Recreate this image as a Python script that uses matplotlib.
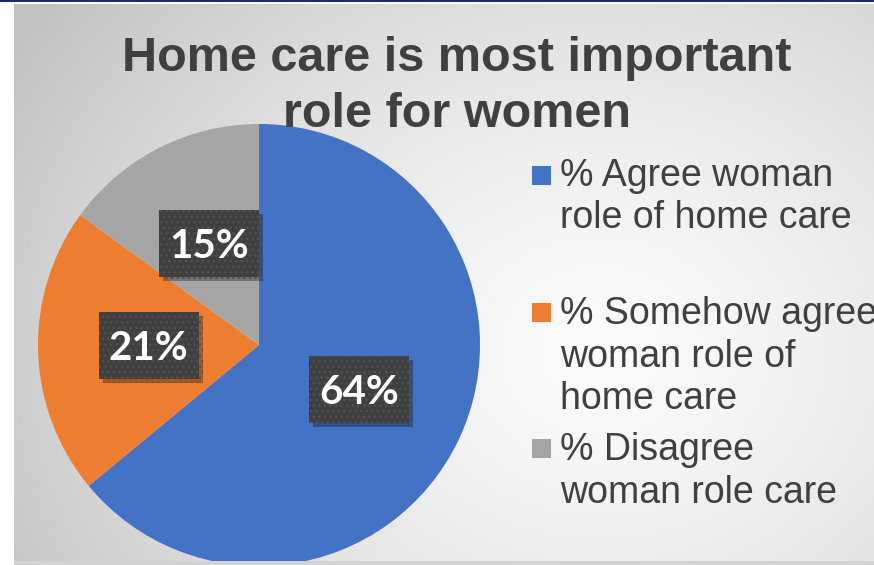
import matplotlib.pyplot as plt
import numpy as np
from matplotlib.patches import Rectangle
from matplotlib.patheffects import withSimplePatchShadow

# Survey shares (percent)
categories = [
    '% Agree woman\nrole of home care',
    '% Somehow agree\nwoman role of\nhome care',
    '% Disagree\nwoman role care',
]
values = [64, 21, 15]
colors = ['#4472C4', '#ED7D31', '#A5A5A5']
title_lines = ['Home care is most important', 'role for women']

W, H = 874, 565
R = 221  # pie radius in pixels
TEXT = '#404040'


def px(x, y):
    """pixel position (from top-left) -> figure fraction"""
    return x / W, 1 - y / H


fig = plt.figure(figsize=(W / 100, H / 100), dpi=100, facecolor='white')

# grey radial background of the chart area
bg = fig.add_axes([14 / W, 0, 1 - 14 / W, 1 - 4 / H], zorder=-5)
yy, xx = np.mgrid[4:H, 14:W]
d = np.sqrt(((xx - 600) / 560.0) ** 2 + ((yy - 350) / 470.0) ** 2)
shade = 251 - 58 * np.clip(d / 1.25, 0, 1) ** 1.4
bg.imshow(np.dstack([shade] * 3) / 255.0, aspect='auto', interpolation='bilinear')
bg.axis('off')

# thin navy rule along the top, light strip along the bottom
fig.add_artist(Rectangle((0, 1 - 2 / H), 1, 2 / H, transform=fig.transFigure,
                         facecolor='#1F2A6E', edgecolor='none'))
fig.add_artist(Rectangle((14 / W, 0), 1, 4 / H, transform=fig.transFigure,
                         facecolor='#d2d2d2', edgecolor='none'))

# pie
ax = fig.add_axes([38 / W, -1 / H, 2 * R / W, 2 * R / H])
wedges, texts, autotexts = ax.pie(
    values, colors=colors, startangle=90, counterclock=False,
    autopct='%1.0f%%', pctdistance=0.5,
    textprops=dict(color='white', fontsize=29, fontweight='bold', family='Lato'))
ax.set_xlim(-1, 1)
ax.set_ylim(-1, 1)
ax.set_aspect('equal')
ax.axis('off')

# dark dotted label boxes with a soft drop shadow
bw, bh = 100 / R, 67 / R
for t in autotexts:
    x, y = t.get_position()
    box = Rectangle((x - bw / 2, y - bh / 2 + 3 / R), bw, bh, facecolor='#404040',
                    edgecolor='#525252', linewidth=0, hatch='...', zorder=3)
    box.set_path_effects(
        [withSimplePatchShadow(offset=(3, -3), shadow_rgbFace='black', alpha=0.3)])
    ax.add_patch(box)
    t.set_zorder(4)

# title
for line, base in zip(title_lines, [71, 127]):
    fig.text(*px(457, base), line, ha='center', va='baseline', fontsize=35,
             fontweight='bold', color=TEXT, family='Liberation Sans')

# legend, laid out by hand
swatch_tops = [166, 303, 439]
baselines = [[186, 228], [324, 367, 409], [460, 503]]
for label, color, top, bases in zip(categories, colors, swatch_tops, baselines):
    x0, y0 = px(532, top + 19)
    fig.add_artist(Rectangle((x0, y0), 19 / W, 19 / H, transform=fig.transFigure,
                             facecolor=color, edgecolor='none'))
    for line, base in zip(label.split('\n'), bases):
        fig.text(*px(560, base), line, ha='left', va='baseline', fontsize=27,
                 color=TEXT, family='Liberation Sans')

plt.savefig('out.png', dpi=100)
